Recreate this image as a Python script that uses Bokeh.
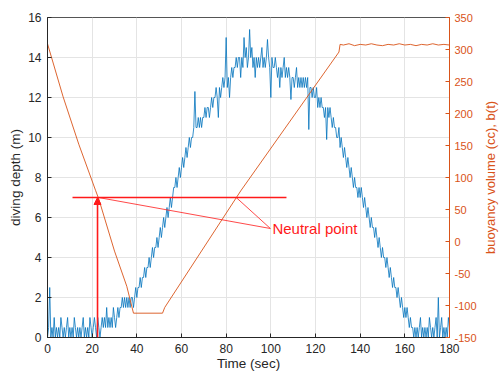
import math
import numpy as np
from bokeh.plotting import figure
from bokeh.layouts import row
from bokeh.models import Range1d, LinearAxis, FixedTicker, Arrow, NormalHead, Label, ColumnDataSource
from bokeh.embed import file_html
from bokeh.resources import INLINE

# ---------------- data ----------------
sample_step = 0.5  # seconds between depth samples
depth = [
    0, 0.5, 2.5, 0, 0.5, 0, 1.0, 0, 0.5, 0,
    0.5, 0, 1.0, 0.5, 0, 0.5, 0, 0.5, 1.0, 0,
    0.5, 0, 0.5, 0, 1.0, 0.5, 0, 0.5, 0, 0.5,
    0, 0.5, 1.0, 0, 0.5, 0, 0.5, 0, 1.0, 0.5,
    0, 0.5, 1.0, 0.5, 0, 1.0, 0.5, 0, 0.5, 1.0,
    0.5, 1.0, 0.5, 1.5, 0.5, 1.0, 0.5, 1.0, 0.5, 1.5,
    1.0, 0.5, 1.0, 1.5, 1.0, 1.5, 1.5, 2.0, 1.5, 2.0,
    1.5, 2.0, 1.5, 2.0, 1.5, 2.0, 2.0, 1.5, 2.0, 2.5,
    2.0, 2.5, 2.5, 3.0, 2.5, 3.0, 3.0, 3.5, 3.0, 3.5,
    3.5, 4.0, 3.5, 4.0, 4.5, 4.0, 4.5, 4.5, 5.0, 4.5,
    5.0, 5.5, 5.0, 5.5, 6.0, 5.5, 6.0, 6.5, 6.0, 6.5,
    7.0, 6.5, 7.0, 7.5, 7.5, 8.0, 7.5, 8.0, 8.5, 8.0,
    8.5, 9.0, 8.5, 9.0, 9.5, 9.0, 9.5, 10.0, 9.5, 10.0,
    10.0, 10.5, 12.3, 10.5, 10.5, 11.0, 10.5, 11.0, 10.5, 11.0,
    11.0, 11.5, 11.0, 11.5, 11.5, 11.0, 11.5, 12.0, 11.5, 12.0,
    12.0, 12.5, 12.0, 11.0, 12.5, 12.0, 12.5, 13.0, 12.5, 13.0,
    15.0, 12.5, 13.0, 12.0, 13.0, 13.5, 13.0, 13.5, 13.5, 14.0,
    13.5, 14.0, 14.0, 13.0, 14.0, 13.5, 15.0, 14.0, 14.5, 13.5,
    14.0, 15.4, 14.0, 14.5, 13.5, 14.0, 13.0, 14.0, 13.5, 14.0,
    13.5, 14.0, 14.5, 13.5, 14.0, 13.5, 14.0, 14.9, 14.0, 13.5,
    12.0, 14.0, 13.5, 13.5, 14.0, 13.5, 13.0, 13.5, 12.5, 13.5,
    13.0, 13.5, 14.0, 13.0, 13.5, 13.0, 13.5, 13.0, 11.9, 13.0,
    13.0, 12.5, 13.0, 13.5, 12.5, 13.0, 12.5, 13.0, 12.5, 13.0,
    12.5, 13.0, 12.5, 13.0, 10.4, 12.5, 12.5, 12.0, 12.5, 12.0,
    12.0, 12.5, 11.5, 12.0, 11.5, 12.0, 11.5, 11.5, 11.0, 11.5,
    9.9, 11.5, 11.0, 11.5, 11.0, 10.5, 11.0, 10.5, 10.5, 10.0,
    10.0, 10.5, 9.5, 10.0, 9.5, 9.0, 9.5, 9.0, 8.5, 9.0,
    8.5, 8.0, 8.5, 8.0, 7.5, 8.0, 7.5, 7.5, 7.0, 7.5,
    7.0, 7.5, 7.0, 6.5, 7.0, 6.5, 6.0, 6.5, 6.0, 5.5,
    6.0, 5.5, 5.5, 5.0, 5.5, 5.0, 4.5, 5.0, 4.5, 4.0,
    4.5, 4.0, 4.0, 3.5, 4.0, 3.5, 3.0, 3.5, 3.0, 2.5,
    3.0, 2.5, 2.5, 2.0, 2.5, 2.0, 1.5, 2.0, 1.5, 1.0,
    1.5, 1.0, 1.5, 1.0, 0.5, 1.0, 0.5, 0.5, 0, 0.5,
    0, 0.5, 0, 0.5, 1.0, 0, 0.5, 0, 0.5, 0,
    0.5, 0, 1.0, 0.5, 0, 0.5, 0, 0.5, 1.0, 0,
    2.0, 0, 0.5, 1.0, 0, 0.5, 0, 0.5, 0, 1.0,
    0.5,
]
depth_time = list(np.arange(len(depth)) * sample_step)

b_time = [0, 7, 14, 21.5, 23, 30, 35.5, 38.5, 51.5, 52.5, 86.5, 130.5, 131,
          132.5, 135, 137.5, 140, 142.5, 145, 147.5, 150, 152.5, 155, 157.5,
          160, 162.5, 165, 167.5, 170, 172.5, 175, 177.5, 180]
b_vol = [309, 226, 152, 80, 66, -15, -70, -112, -112, -103, 79, 296, 308,
         307, 309, 306, 308, 307, 309, 307, 306, 308, 307, 309,
         307, 308, 306, 308, 307, 309, 307, 308, 307]

x_ticks = [0, 20, 40, 60, 80, 100, 120, 140, 160, 180]
depth_ticks = [0, 2, 4, 6, 8, 10, 12, 14, 16]
b_ticks = [-150, -100, -50, 0, 50, 100, 150, 200, 250, 300, 350]

x_title = "Time (sec)"
y_title = "diving depth (m)"
y2_title = "buoyancy volume (cc), b(t)"

# annotation values
neutral_depth = 7
neutral_line_t = [11.2, 107]
neutral_t = [22.8, 84.5]
arrow_t = 22.4
label_t, label_depth = 99.8, 5.45
label_text = "Neutral point"

# ---------------- styles ----------------
BLUE = "#0072BD"
ORANGE = "#D95319"
RED = "#FF1A1A"
AX = "#262626"
FONT = "Liberation Sans"

p = figure(width=483, height=373, x_range=Range1d(0, 180), y_range=Range1d(0, 16),
           output_backend="svg", toolbar_location=None,
           min_border_left=47, min_border_right=34, min_border_top=17, min_border_bottom=36)
p.extra_y_ranges = {"b": Range1d(-150, 350)}
p.background_fill_color = "white"
p.border_fill_color = "white"
p.outline_line_color = "#555555"
p.outline_line_width = 1

p.xgrid.grid_line_color = "#e4e4e4"
p.ygrid.grid_line_color = "#e4e4e4"

xa = p.xaxis[0]
xa.ticker = FixedTicker(ticks=x_ticks)
xa.axis_label = x_title
ya = p.yaxis[0]
ya.ticker = FixedTicker(ticks=depth_ticks)
ya.axis_label = y_title

ra = LinearAxis(y_range_name="b", ticker=FixedTicker(ticks=b_ticks))
ra.major_label_overrides = {v: str(v) for v in b_ticks}
p.add_layout(ra, "right")

for ax, col in ((xa, AX), (ya, AX), (ra, ORANGE)):
    ax.axis_line_color = col
    ax.major_tick_line_color = col
    ax.major_tick_in = 4
    ax.major_tick_out = 0
    ax.minor_tick_line_color = None
    ax.major_label_text_color = col
    ax.major_label_text_font = FONT
    ax.major_label_text_font_size = "12px"
    ax.axis_label_text_color = col
    ax.axis_label_text_font = FONT
    ax.axis_label_text_font_size = "13.5px"
    ax.axis_label_text_font_style = "normal"

ra.major_label_text_font_size = "11px"

xa.major_label_standoff = 6
xa.axis_label_standoff = 0
ya.major_label_standoff = 6
ya.axis_label_standoff = 2
ra.major_label_standoff = 5

# ---------------- data glyphs ----------------
p.line(depth_time, depth, line_color=BLUE, line_width=0.8)
p.line(b_time, b_vol, line_color=ORANGE, line_width=0.9, y_range_name="b")

# ---------------- annotations ----------------
p.line(neutral_line_t, [neutral_depth, neutral_depth], line_color=RED, line_width=1.6)
p.add_layout(Arrow(end=NormalHead(size=7, fill_color=RED, line_color=RED),
                   x_start=arrow_t, y_start=0, x_end=arrow_t, y_end=neutral_depth,
                   line_color=RED, line_width=1.6))
seg = ColumnDataSource(dict(x0=[label_t] * len(neutral_t), y0=[label_depth] * len(neutral_t),
                            x1=neutral_t, y1=[neutral_depth] * len(neutral_t)))
p.segment(x0="x0", y0="y0", x1="x1", y1="y1", source=seg, line_color=RED, line_width=0.8)
p.add_layout(Label(x=label_t, y=label_depth, x_offset=2, text=label_text, text_color=RED,
                   text_font=FONT, text_font_size="15px", text_baseline="middle",
                   text_align="left"))

# ---------------- right-hand axis title (narrow strip beside the chart) ----------------
strip_w = 16
p2 = figure(width=strip_w, height=373, x_range=Range1d(0, strip_w), y_range=p.y_range,
            output_backend="svg", toolbar_location=None, x_axis_location=None,
            y_axis_location=None, min_border=0, min_border_left=0, min_border_right=0,
            min_border_top=17, min_border_bottom=36)
p2.grid.visible = False
p2.outline_line_color = None
p2.background_fill_color = "white"
p2.border_fill_color = "white"
p2.add_layout(Label(x=7, y=8, text=y2_title, text_color=ORANGE, text_font=FONT,
                    text_font_size="13px", text_align="center", text_baseline="middle",
                    angle=math.pi / 2))

layout = row(p, p2, spacing=0)
open("out.html", "w").write(file_html(layout, INLINE))
